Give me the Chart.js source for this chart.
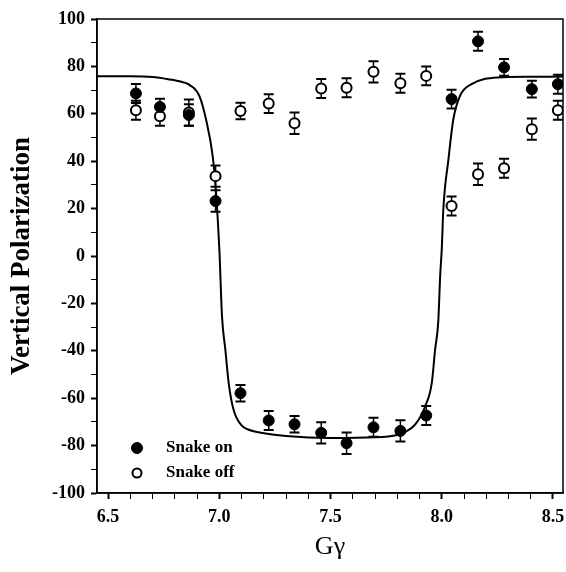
<!DOCTYPE html>
<html>
<head>
<meta charset="utf-8">
<script src="https://cdn.jsdelivr.net/npm/chart.js@4"></script>
<style>
    html, body { margin: 0; padding: 0; background: #fff; }
</style>
</head>
<body>
<canvas id="myChart" width="566" height="572"></canvas>
<script>
// measured points (G gamma)
const gamma = [6.625, 6.733, 6.863, 6.983, 7.095, 7.222, 7.338, 7.458, 7.572, 7.693, 7.814, 7.930, 8.044, 8.163, 8.280, 8.405, 8.522];
const snakeOn = [68.6, 62.9, 59.5, 23.2, -57.9, -69.4, -71.0, -74.6, -79.0, -72.3, -73.8, -67.3, 66.2, 90.6, 79.6, 70.4, 72.5];
const snakeOnErr = [4.0, 3.5, 4.5, 4.5, 3.5, 4.0, 3.5, 4.5, 4.5, 4.0, 4.5, 4.0, 4.0, 4.0, 3.5, 3.5, 4.0];
const snakeOff = [61.5, 59.0, 60.5, 33.7, 61.2, 64.3, 56.0, 70.7, 71.0, 77.7, 72.9, 76.0, 21.1, 34.5, 37.0, 53.5, 61.5];
const snakeOffErr = [4.0, 4.0, 5.5, 4.5, 3.5, 4.0, 4.5, 4.0, 4.0, 4.5, 4.0, 4.0, 4.0, 4.5, 4.0, 4.5, 4.0];

// fitted curve
const fitGamma = [6.45, 6.6, 6.7, 6.77, 6.83, 6.86, 6.91, 6.94, 6.97, 6.985, 7.0, 7.012, 7.027, 7.042, 7.064, 7.1, 7.13, 7.2, 7.3, 7.5, 7.7, 7.8, 7.83, 7.88, 7.925, 7.955, 7.97, 7.984, 7.993, 8.0, 8.007, 8.03, 8.052, 8.082, 8.134, 8.25, 8.4, 8.545];
const fitPol = [75.8, 75.8, 75.5, 74.6, 73.5, 72.5, 67.6, 57.7, 42.2, 26.8, 3, -25.5, -39.5, -53.6, -64.9, -71.5, -73.2, -74.8, -76, -76.8, -76.5, -75.5, -74.5, -71.2, -63.5, -53.6, -39.5, -28, -8, 3, 19.7, 40.8, 57.7, 67.6, 72.5, 75.3, 75.6, 75.7];

const xLabels = [6.5, 7.0, 7.5, 8.0, 8.5];
const yLabels = [-100, -80, -60, -40, -20, 0, 20, 40, 60, 80, 100];

const serif = '"Liberation Serif", "DejaVu Serif", serif';

function isLabel(list, v) {
    return list.some((t) => Math.abs(t - v) < 1e-6);
}

const errorBars = {
    id: 'errorBars',
    beforeDatasetsDraw(chart) {
        const { ctx, scales: { x, y } } = chart;
        ctx.save();
        ctx.strokeStyle = '#000';
        chart.data.datasets.forEach((ds) => {
            if (!ds.errors) return;
            ds.data.forEach((p, i) => {
                const px = x.getPixelForValue(p.x);
                const top = y.getPixelForValue(p.y + ds.errors[i]);
                const bot = y.getPixelForValue(p.y - ds.errors[i]);
                ctx.lineWidth = 1.5;
                ctx.beginPath();
                ctx.moveTo(px, top);
                ctx.lineTo(px, bot);
                ctx.stroke();
                ctx.lineWidth = 2;
                ctx.beginPath();
                ctx.moveTo(px - 5, top);
                ctx.lineTo(px + 5, top);
                ctx.moveTo(px - 5, bot);
                ctx.lineTo(px + 5, bot);
                ctx.stroke();
            });
        });
        ctx.restore();
    }
};

const frameAndLegend = {
    id: 'frameAndLegend',
    afterDraw(chart) {
        const { ctx, chartArea } = chart;
        ctx.save();
        ctx.strokeStyle = '#000';
        ctx.lineWidth = 1.5;
        ctx.strokeRect(chartArea.left, chartArea.top, chartArea.right - chartArea.left, chartArea.bottom - chartArea.top);

        // legend inside the plot, bottom left
        [chart.data.datasets[0], chart.data.datasets[1]].forEach((ds, i) => {
            const cx = chartArea.left + 40;
            const cy = chartArea.bottom - 45 + i * 25;
            ctx.beginPath();
            ctx.arc(cx, cy, i === 0 ? 5.5 : 4.5, 0, Math.PI * 2);
            ctx.fillStyle = ds.backgroundColor;
            ctx.fill();
            ctx.lineWidth = ds.borderWidth;
            ctx.stroke();
            ctx.fillStyle = '#000';
            ctx.font = 'bold 17px ' + serif;
            ctx.textBaseline = 'middle';
            ctx.fillText(ds.label, chartArea.left + 69, cy);
        });
        ctx.restore();
    }
};

const ctx = document.getElementById('myChart');

new Chart(ctx, {
    type: 'scatter',
    data: {
        datasets: [{
            label: 'Snake on',
            data: gamma.map((g, i) => ({ x: g, y: snakeOn[i] })),
            errors: snakeOnErr,
            backgroundColor: '#000',
            borderColor: '#000',
            borderWidth: 1,
            pointRadius: 5.5,
        }, {
            label: 'Snake off',
            data: gamma.map((g, i) => ({ x: g, y: snakeOff[i] })),
            errors: snakeOffErr,
            backgroundColor: '#fff',
            borderColor: '#000',
            borderWidth: 2,
            pointRadius: 5,
        }, {
            label: 'fit',
            type: 'line',
            data: fitGamma.map((g, i) => ({ x: g, y: fitPol[i] })),
            borderColor: '#000',
            borderWidth: 2,
            pointRadius: 0,
            cubicInterpolationMode: 'monotone',
            fill: false,
        }]
    },
    options: {
        responsive: false,
        animation: false,
        layout: { autoPadding: false, padding: { top: 19, right: 3, left: 0, bottom: 0 } },
        plugins: {
            legend: { display: false },
            tooltip: { enabled: false },
        },
        scales: {
            x: {
                type: 'linear',
                min: 6.45,
                max: 8.545,
                afterFit: (scale) => {
                    scale.height = 79;
                    scale.paddingLeft = 0;
                    scale.paddingRight = 0;
                },
                border: { display: true, color: '#000', width: 1.5 },
                grid: {
                    drawOnChartArea: false,
                    color: '#000',
                    tickLength: 6,
                    tickWidth: (c) => isLabel(xLabels, c.tick.value) ? 2 : 1,
                },
                ticks: {
                    stepSize: 0.1,
                    includeBounds: false,
                    autoSkip: false,
                    maxRotation: 0,
                    padding: 8,
                    color: '#000',
                    font: { family: serif, size: 18, weight: 'bold' },
                    callback: (v) => isLabel(xLabels, v) ? v.toFixed(1) : '',
                },
                title: {
                    display: true,
                    text: 'Gγ',
                    color: '#000',
                    padding: { top: 0, bottom: 9 },
                    font: { family: serif, size: 26 },
                },
            },
            y: {
                min: -100,
                max: 100,
                afterFit: (scale) => { scale.width = 97; },
                border: { display: true, color: '#000', width: 1.5 },
                grid: {
                    drawOnChartArea: false,
                    color: '#000',
                    tickLength: 6,
                    tickWidth: (c) => isLabel(yLabels, c.tick.value) ? 2 : 1,
                },
                ticks: {
                    stepSize: 10,
                    autoSkip: false,
                    padding: 6,
                    color: '#000',
                    font: { family: serif, size: 18, weight: 'bold' },
                    callback: (v) => isLabel(yLabels, v) ? String(v) : '',
                },
                title: {
                    display: true,
                    text: 'Vertical Polarization',
                    color: '#000',
                    padding: { top: 6, bottom: 0 },
                    font: { family: serif, size: 27, weight: 'bold' },
                },
            }
        }
    },
    plugins: [errorBars, frameAndLegend]
});
</script>
</body>
</html>
